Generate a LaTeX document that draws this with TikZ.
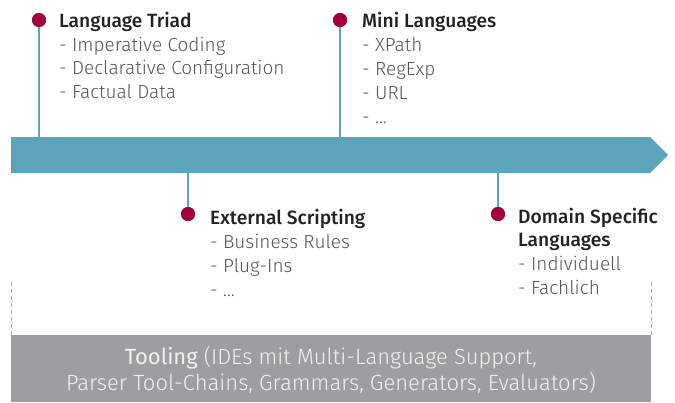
\documentclass[tikz,border=0pt]{standalone}
\usepackage{fontspec}
\setmainfont{Fira Sans Light}
\newfontfamily\headfont{Fira Sans Medium}
\newfontfamily\tooldfont{Fira Sans}
\definecolor{band}{HTML}{5BA4B9}
\definecolor{dotc}{HTML}{A3003B}
\definecolor{headc}{HTML}{222222}
\definecolor{itemc}{HTML}{555555}
\definecolor{toolbg}{HTML}{9D9EA0}
\definecolor{toolfg}{HTML}{F2F2F2}
\definecolor{dashc}{HTML}{AAAAAA}
\begin{document}
\begin{tikzpicture}[x=1pt,y=-1pt,
  dotn/.style={circle,fill=dotc,minimum size=14pt,inner sep=0pt},
  stem/.style={band,line width=2.2pt},
  head/.style={anchor=base west,inner sep=0pt,font=\headfont\fontsize{19.2}{21}\selectfont,text=headc},
  item/.style={anchor=base west,inner sep=0pt,font=\fontsize{19}{21}\selectfont,text=itemc},
  tool/.style={anchor=base,inner sep=0pt,font=\fontsize{22}{24}\selectfont,text=toolfg},
  vdash/.style={dashc,line width=0.8pt,dash pattern=on 4pt off 3pt}]
\useasboundingbox (0,0) rectangle (675,402);
% band arrow
\fill[band] (11,137) -- (650,137) -- (668,155) -- (650,173) -- (11,173) -- cycle;
\coordinate (b1) at (39,137);
\coordinate (b2) at (340,137);
\coordinate (b3) at (188,173);
\coordinate (b4) at (498,173);
% dots
\node[dotn] (d1) at (39,20) {};
\node[dotn] (d2) at (340,20) {};
\node[dotn] (d3) at (188,214) {};
\node[dotn] (d4) at (498,214) {};
\draw[stem] (d1.center) -- (b1);
\draw[stem] (d2.center) -- (b2);
\draw[stem] (b3) -- (d3.center);
\draw[stem] (b4) -- (d4.center);
\node[dotn] at (39,20) {};
\node[dotn] at (340,20) {};
\node[dotn] at (188,214) {};
\node[dotn] at (498,214) {};
% Language Triad
\node[head] (t1) at (59,27) {Language Triad};
\node[item] (t1a) at (59,51) {- Imperative Coding};
\node[item] (t1b) at (59,74.5) {- Declarative Configuration};
\node[item] (t1c) at (59,98) {- Factual Data};
% Mini Languages
\node[head] (t2) at (362,27) {Mini Languages};
\node[item] (t2a) at (362,51) {- XPath};
\node[item] (t2b) at (362,75) {- RegExp};
\node[item] (t2c) at (362,99) {- URL};
\node[item] (t2d) at (362,123) {- ...};
% External Scripting
\node[head] (t3) at (210,224) {External Scripting};
\node[item] (t3a) at (210,248) {- Business Rules};
\node[item] (t3b) at (210,272) {- Plug-Ins};
\node[item] (t3c) at (210,296) {- ...};
% DSL
\node[head] (t4) at (518,223) {Domain Specific};
\node[head] (t4b) at (518,246.5) {Languages};
\node[item] (t4c) at (518,270) {- Individuell};
\node[item] (t4d) at (518,294) {- Fachlich};
% dashed verticals
\coordinate (l1) at (11,282);
\coordinate (l2) at (11,335);
\coordinate (r1) at (651,282);
\coordinate (r2) at (651,335);
\draw[vdash] (l1) -- (l2);
\draw[vdash] (r1) -- (r2);
% tooling box
\fill[toolbg] (11,335) rectangle (651,402);
\node[tool] (tool1) at (331,364) {{\tooldfont Tooling} (IDEs mit Multi-Language Support,};
\node[tool] (tool2) at (331,390) {Parser Tool-Chains, Grammars, Generators, Evaluators)};
\end{tikzpicture}
\end{document}
